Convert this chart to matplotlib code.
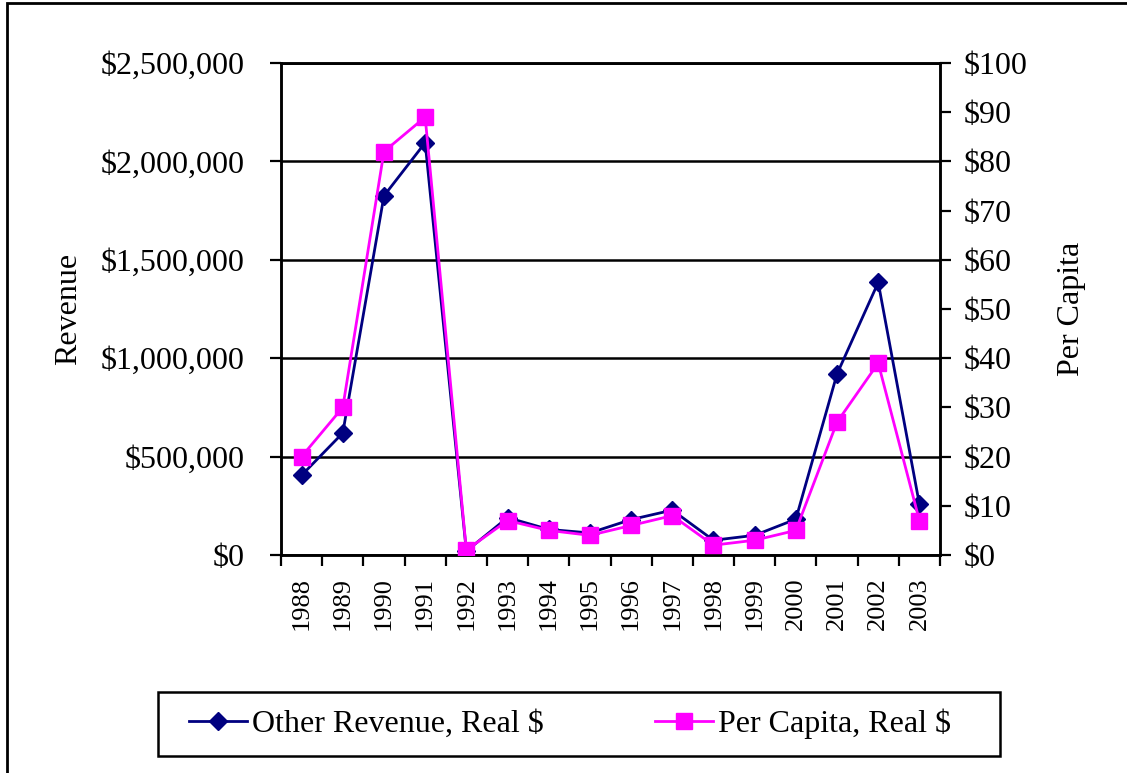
import matplotlib.pyplot as plt
from matplotlib.patches import Rectangle
from matplotlib.ticker import FuncFormatter, MultipleLocator
import numpy as np

# data
years = ['1988', '1989', '1990', '1991', '1992', '1993', '1994', '1995',
         '1996', '1997', '1998', '1999', '2000', '2001', '2002', '2003']
other_revenue = [405000, 620000, 1825000, 2095000, 20000, 190000, 130000, 112000,
                 180000, 228000, 75000, 100000, 182000, 920000, 1385000, 258000]
per_capita = [20, 30, 82, 89, 1, 7, 5, 4, 6, 8, 2, 3, 5, 27, 39, 7]

plt.rcParams['font.family'] = ['Liberation Serif', 'DejaVu Serif']

fig = plt.figure(figsize=(11.27, 7.73), dpi=100)
W, H = 1127, 773
ax = fig.add_axes([281 / W, 1 - 555 / H, 659 / W, 492 / H])
ax2 = ax.twinx()

x = np.arange(len(years))
ax.plot(x, other_revenue, color='#000080', lw=2, marker='D', ms=9,
        mec='#000080', mfc='#000080', label='Other Revenue, Real $', zorder=3)
ax2.plot(x, per_capita, color='#FF00FF', lw=2, marker='s', ms=11,
         mec='#FF00FF', mfc='#FF00FF', label='Per Capita, Real $', zorder=3)

ax.set_xlim(-0.5, len(years) - 0.5)
ax.set_ylim(0, 2500000)
ax2.set_ylim(0, 100)

ax.yaxis.set_major_locator(MultipleLocator(500000))
ax.yaxis.set_major_formatter(FuncFormatter(lambda v, p: '${:,.0f}'.format(v)))
ax2.yaxis.set_major_locator(MultipleLocator(10))
ax2.yaxis.set_major_formatter(FuncFormatter(lambda v, p: '${:.0f}'.format(v)))

ax.set_xticks(np.arange(-0.5, len(years), 1.0))
ax.set_xticklabels([])
ax.set_xticks(x, minor=True)
ax.set_xticklabels(years, minor=True, rotation=90, fontsize=19)
ax.tick_params(axis='x', which='major', direction='out', length=8, width=1.6)
ax.tick_params(axis='x', which='minor', length=0, pad=16)
ax.tick_params(axis='y', direction='out', length=8, width=1.6, labelsize=23, pad=18)
ax2.tick_params(axis='y', direction='out', length=8, width=1.6, labelsize=23, pad=9)

ax.grid(axis='y', color='black', lw=1.8)
ax.set_axisbelow(True)
for a in (ax, ax2):
    for s in a.spines.values():
        s.set_linewidth(1.8)
        s.set_color('black')

fig.text(69 / W, 1 - 309 / H, 'Revenue', rotation=90, ha='center', va='center', fontsize=23)
fig.text(1071 / W, 1 - 309 / H, 'Per Capita', rotation=90, ha='center', va='center', fontsize=23)

# legend box
fig.patches.append(Rectangle((158 / W, 1 - 756 / H), 842 / W, 64 / H,
                             transform=fig.transFigure, fill=False,
                             edgecolor='black', lw=1.8))
h1, l1 = ax.get_legend_handles_labels()
h2, l2 = ax2.get_legend_handles_labels()
fig.legend(h1 + h2, l1 + l2, loc='center', ncol=2, fontsize=23,
           bbox_to_anchor=(570 / W, 1 - 724 / H), bbox_transform=fig.transFigure,
           frameon=False, handlelength=1.8, handletextpad=0.15,
           columnspacing=3.5, borderpad=0)

# outer border
fig.patches.append(Rectangle((7 / W, -0.1), 1.2, (1 - 3 / H) + 0.1,
                             transform=fig.transFigure, fill=False,
                             edgecolor='black', lw=2))

plt.savefig('out.png', dpi=100)
